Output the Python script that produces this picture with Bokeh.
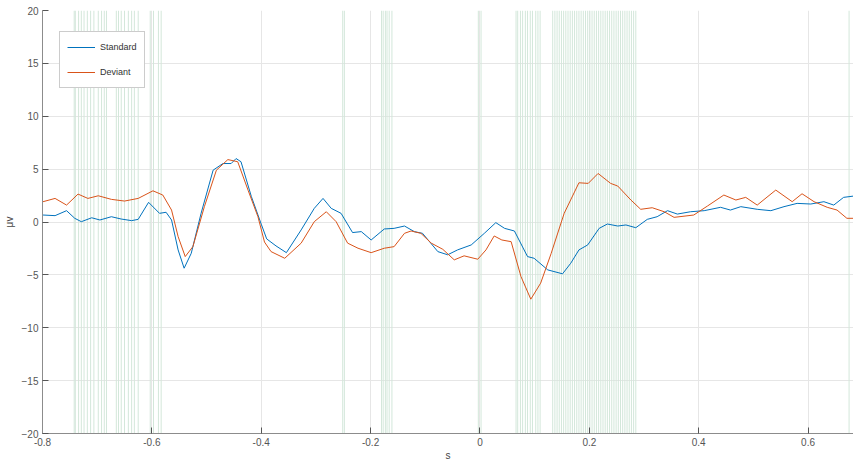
from bokeh.plotting import figure
from bokeh.models import Range1d, FixedTicker, Legend, LegendItem
from bokeh.embed import file_html
from bokeh.resources import INLINE

# ---- data ----
std_t = [-0.799, -0.777, -0.756, -0.741, -0.729, -0.710, -0.695, -0.674, -0.656, -0.637,
         -0.625, -0.606, -0.586, -0.574, -0.564, -0.552, -0.541, -0.528, -0.510, -0.488,
         -0.470, -0.455, -0.446, -0.437, -0.418, -0.400, -0.390, -0.373, -0.354, -0.327,
         -0.303, -0.287, -0.272, -0.254, -0.233, -0.217, -0.199, -0.175, -0.157, -0.138,
         -0.120, -0.105, -0.077, -0.059, -0.041, -0.016, 0.008, 0.029, 0.045, 0.063,
         0.087, 0.099, 0.124, 0.151, 0.166, 0.181, 0.197, 0.218, 0.233, 0.252,
         0.267, 0.285, 0.306, 0.324, 0.343, 0.361, 0.385, 0.410, 0.440, 0.458,
         0.477, 0.507, 0.532, 0.556, 0.580, 0.605, 0.629, 0.647, 0.665, 0.683]
std_v = [0.66, 0.60, 1.07, 0.35, 0.03, 0.40, 0.19, 0.50, 0.28, 0.13,
         0.25, 1.86, 0.82, 0.92, 0.19, -2.64, -4.37, -2.96, 0.82, 4.90,
         5.53, 5.53, 6.00, 5.70, 2.40, -0.20, -1.60, -2.26, -2.90, -0.75,
         1.29, 2.23, 1.29, 0.82, -1.00, -0.91, -1.70, -0.66, -0.60, -0.38,
         -0.91, -1.07, -2.80, -3.10, -2.64, -2.17, -1.07, -0.06, -0.60, -0.85,
         -3.27, -3.43, -4.53, -4.90, -3.90, -2.64, -2.17, -0.60, -0.19, -0.38,
         -0.28, -0.54, 0.25, 0.50, 1.07, 0.75, 0.97, 1.07, 1.39, 1.13,
         1.45, 1.20, 1.07, 1.45, 1.76, 1.70, 1.92, 1.60, 2.33, 2.45]

dev_t = [-0.799, -0.777, -0.756, -0.735, -0.717, -0.698, -0.674, -0.650, -0.625, -0.598,
         -0.580, -0.564, -0.552, -0.539, -0.525, -0.504, -0.482, -0.461, -0.443, -0.424,
         -0.406, -0.394, -0.382, -0.357, -0.327, -0.303, -0.281, -0.263, -0.242, -0.223,
         -0.199, -0.175, -0.157, -0.138, -0.126, -0.108, -0.089, -0.068, -0.047, -0.029,
         -0.004, 0.011, 0.026, 0.040, 0.057, 0.075, 0.093, 0.111, 0.130, 0.154,
         0.181, 0.198, 0.216, 0.239, 0.252, 0.276, 0.294, 0.315, 0.337, 0.355,
         0.391, 0.416, 0.446, 0.468, 0.486, 0.507, 0.541, 0.571, 0.589, 0.611,
         0.635, 0.653, 0.671, 0.683]
dev_v = [1.92, 2.23, 1.60, 2.64, 2.23, 2.48, 2.14, 1.98, 2.23, 2.95,
         2.55, 1.13, -1.38, -3.27, -2.33, 1.45, 4.90, 5.90, 5.70, 3.00,
         0.50, -1.90, -2.80, -3.43, -2.00, 0.03, 0.97, 0.03, -2.00, -2.48,
         -2.90, -2.48, -2.33, -1.07, -0.85, -1.07, -2.00, -2.58, -3.58, -3.20,
         -3.52, -2.64, -1.32, -1.70, -1.86, -5.16, -7.30, -5.78, -3.00, 0.82,
         3.71, 3.65, 4.59, 3.65, 3.40, 2.08, 1.20, 1.35, 0.97, 0.44,
         0.66, 1.51, 2.55, 2.08, 2.33, 1.60, 3.02, 1.92, 2.67, 1.92,
         1.39, 1.13, 0.35, 0.35]

sig_t = [-0.742, -0.740, -0.734, -0.729, -0.724, -0.718, -0.712, -0.706, -0.698, -0.692,
         -0.687, -0.683,
         -0.665, -0.661, -0.656, -0.650, -0.643, -0.637, -0.632, -0.625,
         -0.603, -0.597, -0.588, -0.583,
         -0.251, -0.248,
         -0.180, -0.177, -0.173, -0.170, -0.166, -0.161,
         -0.003, 0.002,
         0.066, 0.069, 0.074, 0.078, 0.083, 0.087, 0.092, 0.096, 0.102, 0.106, 0.110,
         0.133, 0.137, 0.141, 0.145, 0.149, 0.153, 0.157, 0.161, 0.165, 0.169,
         0.173, 0.177, 0.181, 0.185, 0.189, 0.193, 0.197, 0.201, 0.205, 0.209,
         0.213, 0.217, 0.221, 0.225, 0.229, 0.233, 0.237, 0.241, 0.245, 0.249,
         0.253, 0.257, 0.261, 0.265, 0.269, 0.273, 0.277, 0.281, 0.285,
         0.675]

x_ticks = [-0.8, -0.6, -0.4, -0.2, 0, 0.2, 0.4, 0.6]
y_ticks = [-20, -15, -10, -5, 0, 5, 10, 15, 20]
x_tick_labels = {-0.8: "-0.8", -0.6: "-0.6", -0.4: "-0.4", -0.2: "-0.2", 0: "0",
                 0.2: "0.2", 0.4: "0.4", 0.6: "0.6"}

FONT = "Liberation Sans"
TXT = "#555555"
AX = "#8c8c8c"

p = figure(width=853, height=463, output_backend="svg", toolbar_location=None,
           x_range=Range1d(-0.8, 0.6831), y_range=Range1d(-20, 20),
           min_border_left=41, min_border_right=0, min_border_top=10, min_border_bottom=29)
p.outline_line_color = None
p.background_fill_color = "white"

# significance lines
p.segment(x0=sig_t, y0=[-20] * len(sig_t), x1=sig_t, y1=[20] * len(sig_t),
          line_color="#d3e7da", line_width=1)

r_std = p.line(std_t, std_v, line_color="#0072BD", line_width=1)
r_dev = p.line(dev_t, dev_v, line_color="#D95319", line_width=1)

legend = Legend(items=[LegendItem(label="Standard", renderers=[r_std]),
                       LegendItem(label="Deviant", renderers=[r_dev])],
                location=(17, 345))
legend.label_text_font = FONT
legend.label_text_font_size = "9px"
legend.label_text_color = "#333333"
legend.glyph_width = 28
legend.glyph_height = 16
legend.label_height = 16
legend.label_width = 10
legend.spacing = 9
legend.padding = 7
legend.margin = 0
legend.label_standoff = 5
legend.border_line_color = "#999999"
legend.border_line_width = 1
legend.background_fill_alpha = 1
p.add_layout(legend)

for g in (p.xgrid[0], p.ygrid[0]):
    g.grid_line_color = "#e6e6e6"
    g.grid_line_width = 1
p.xgrid.ticker = FixedTicker(ticks=x_ticks)
p.ygrid.ticker = FixedTicker(ticks=y_ticks)

p.xaxis.ticker = FixedTicker(ticks=x_ticks)
p.yaxis.ticker = FixedTicker(ticks=y_ticks)
p.xaxis.major_label_overrides = x_tick_labels
p.xaxis.axis_label = "s"
p.yaxis.axis_label = "μv"
for ax in (p.xaxis[0], p.yaxis[0]):
    ax.axis_line_color = AX
    ax.major_tick_line_color = "#555555"
    ax.major_tick_in = 6
    ax.major_tick_out = 0
    ax.minor_tick_line_color = None
    ax.major_label_text_font = FONT
    ax.major_label_text_font_size = "10px"
    ax.major_label_text_color = TXT
    ax.axis_label_text_font = FONT
    ax.axis_label_text_font_size = "10px"
    ax.axis_label_text_font_style = "normal"
    ax.axis_label_text_color = "#444444"
p.xaxis.major_label_standoff = 4
p.xaxis.axis_label_standoff = 1
p.yaxis.major_label_standoff = 4
p.yaxis.axis_label_standoff = 4

open("out.html", "w").write(file_html(p, INLINE))
